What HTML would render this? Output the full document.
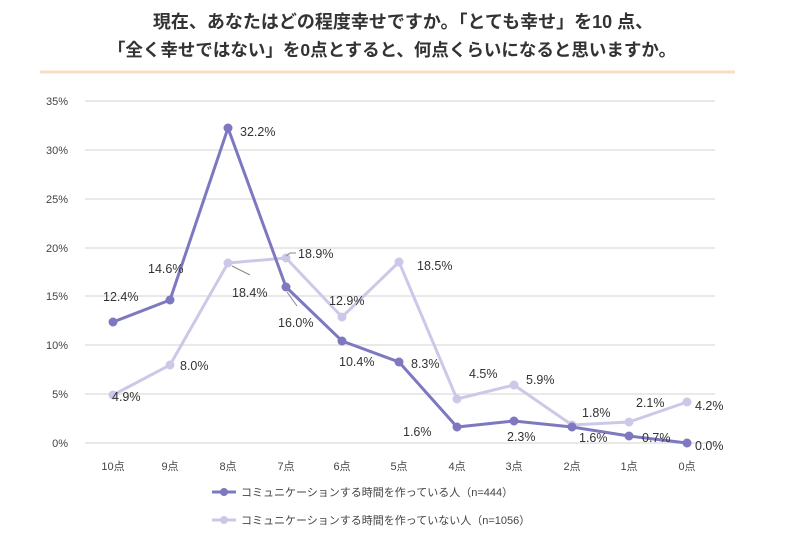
<!DOCTYPE html>
<html><head><meta charset="utf-8"><style>
body{margin:0;background:#fff;}
svg text{font-family:"Liberation Sans","Noto Sans CJK JP",sans-serif;}
</style></head><body>
<svg width="800" height="546" viewBox="0 0 800 546" xmlns="http://www.w3.org/2000/svg">
<rect width="800" height="546" fill="#fff"/>
<text x="403" y="28" font-size="18" font-weight="bold" fill="#333" text-anchor="middle">現在、あなたはどの程度幸せですか。「とても幸せ」を10 点、</text>
<text x="392" y="56" font-size="17.5" font-weight="bold" fill="#333" text-anchor="middle">「全く幸せではない」を0点とすると、何点くらいになると思いますか。</text>
<line x1="40" y1="72" x2="735" y2="72" stroke="#f8dcc4" stroke-width="3"/>
<g stroke="#e2e2e2" stroke-width="1.5">
<line x1="85" y1="101" x2="715" y2="101"/><line x1="85" y1="150" x2="715" y2="150"/>
<line x1="85" y1="199" x2="715" y2="199"/><line x1="85" y1="248" x2="715" y2="248"/>
<line x1="85" y1="296" x2="715" y2="296"/><line x1="85" y1="345" x2="715" y2="345"/>
<line x1="85" y1="394" x2="715" y2="394"/><line x1="85" y1="443" x2="715" y2="443"/>
</g>
<g font-size="11" fill="#444" text-anchor="end">
<text x="68" y="105">35%</text><text x="68" y="154">30%</text><text x="68" y="203">25%</text>
<text x="68" y="252">20%</text><text x="68" y="300">15%</text><text x="68" y="349">10%</text>
<text x="68" y="398">5%</text><text x="68" y="447">0%</text>
</g>
<g font-size="11" fill="#444" text-anchor="middle">
<text x="113" y="470">10点</text><text x="170" y="470">9点</text><text x="228" y="470">8点</text>
<text x="286" y="470">7点</text><text x="342" y="470">6点</text><text x="399" y="470">5点</text>
<text x="457" y="470">4点</text><text x="514" y="470">3点</text><text x="572" y="470">2点</text>
<text x="629" y="470">1点</text><text x="687" y="470">0点</text>
</g>
<g fill="#ccc9e8" stroke="#ccc9e8">
<polyline fill="none" stroke-width="3" points="113,395 170,365 228,263 286,258 342,317 399,262 457,399 514,385 572,425 629,422 687,402"/>
<circle cx="113" cy="395" r="4"/><circle cx="170" cy="365" r="4"/><circle cx="228" cy="263" r="4"/><circle cx="286" cy="258" r="4"/><circle cx="342" cy="317" r="4"/><circle cx="399" cy="262" r="4"/><circle cx="457" cy="399" r="4"/><circle cx="514" cy="385" r="4"/><circle cx="572" cy="425" r="4"/><circle cx="629" cy="422" r="4"/><circle cx="687" cy="402" r="4"/>
</g>
<g fill="#7d78bf" stroke="#7d78bf">
<polyline fill="none" stroke-width="3" points="113,322 170,300 228,128 286,287 342,341 399,362 457,427 514,421 572,427 629,436 687,443"/>
<circle cx="113" cy="322" r="4"/><circle cx="170" cy="300" r="4"/><circle cx="228" cy="128" r="4"/><circle cx="286" cy="287" r="4"/><circle cx="342" cy="341" r="4"/><circle cx="399" cy="362" r="4"/><circle cx="457" cy="427" r="4"/><circle cx="514" cy="421" r="4"/><circle cx="572" cy="427" r="4"/><circle cx="629" cy="436" r="4"/><circle cx="687" cy="443" r="4"/>
</g>
<g stroke="#888" stroke-width="1" fill="none">
<line x1="232" y1="266" x2="250" y2="275"/>
<polyline points="286,256 290,253 296,253"/>
<line x1="287" y1="292" x2="297" y2="306"/>
</g>
<g font-size="12.5" fill="#333">
<text x="103" y="301">12.4%</text><text x="148" y="273">14.6%</text>
<text x="240" y="136">32.2%</text><text x="232" y="297">18.4%</text>
<text x="298" y="258">18.9%</text><text x="278" y="327">16.0%</text>
<text x="329" y="305">12.9%</text><text x="339" y="366">10.4%</text>
<text x="417" y="270">18.5%</text><text x="411" y="368">8.3%</text>
<text x="469" y="378">4.5%</text><text x="526" y="384">5.9%</text>
<text x="403" y="436">1.6%</text><text x="507" y="441">2.3%</text>
<text x="582" y="417">1.8%</text><text x="579" y="442">1.6%</text>
<text x="636" y="407">2.1%</text><text x="642" y="442">0.7%</text>
<text x="695" y="410">4.2%</text><text x="695" y="450">0.0%</text>
<text x="180" y="370">8.0%</text><text x="112" y="401">4.9%</text>
</g>
<line x1="212" y1="492" x2="236" y2="492" stroke="#7d78bf" stroke-width="3"/><circle cx="224" cy="492" r="4" fill="#7d78bf"/>
<text x="241" y="496" font-size="11" fill="#444">コミュニケーションする時間を作っている人（n=444）</text>
<line x1="212" y1="520" x2="236" y2="520" stroke="#ccc9e8" stroke-width="3"/><circle cx="224" cy="520" r="4" fill="#ccc9e8"/>
<text x="241" y="524" font-size="11" fill="#444">コミュニケーションする時間を作っていない人（n=1056）</text>
</svg>
</body></html>
